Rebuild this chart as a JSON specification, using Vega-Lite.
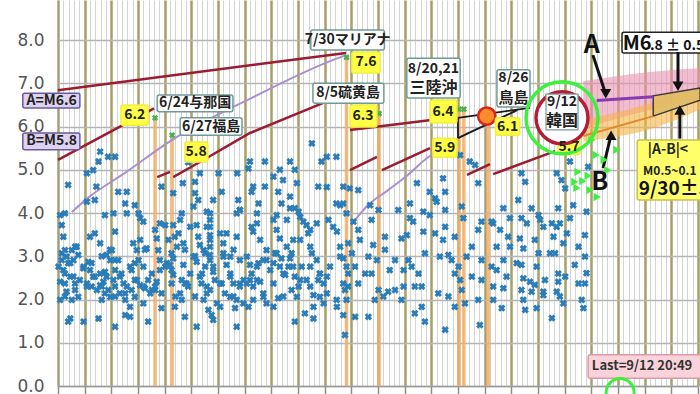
{
 "$schema": "https://vega.github.io/schema/vega-lite/v6.json",
 "width": 640, "height": 386,
 "autosize": {"type": "none"},
 "padding": {"left": 58, "top": 0, "right": 2, "bottom": 8},
 "background": "#ffffff",
 "config": {"view": {"stroke": null}, "text": {"font": "Noto Sans CJK JP"}},
 "datasets": {
  "levels": [{"v": 6.6}, {"v": 5.8}],
  "quakes": [{"d":18.2,"v":6.2},{"d":21.4,"v":5.8},{"d":54.1,"v":7.6},{"d":60.2,"v":6.3},{"d":75.2,"v":6.4},{"d":76.1,"v":6.4},{"d":80.7,"v":6.1}],
  "cone": [
   {"k":"pink","d":98.5,"v":5.95,"v2":7.05},{"k":"pink","d":104,"v":6.15,"v2":7.15},{"k":"pink","d":110,"v":6.35,"v2":7.25},{"k":"pink","d":120.5,"v":6.6,"v2":7.35},
   {"k":"orange","d":98.5,"v":5.65,"v2":6.15},{"k":"orange","d":104,"v":5.75,"v2":6.3},{"k":"orange","d":110,"v":5.9,"v2":6.5},{"k":"orange","d":120.5,"v":6.4,"v2":6.9},
   {"k":"trap","d":111.6,"v":6.24,"v2":6.71},{"k":"trap","d":120.4,"v":6.61,"v2":6.89}
  ],
  "lines": [
   {"k":"red","s":"r1","d":0,"v":6.84},{"k":"red","s":"r1","d":54,"v":7.7},
   {"k":"red","s":"r2","d":0,"v":5.23},{"k":"red","s":"r2","d":18,"v":6.42},
   {"k":"red","s":"r3","d":18.6,"v":4.83},{"k":"red","s":"r3","d":21,"v":4.95},
   {"k":"red","s":"r4","d":21.6,"v":4.83},{"k":"red","s":"r4","d":26.6,"v":5.18},{"k":"red","s":"r4","d":36,"v":5.85},{"k":"red","s":"r4","d":51,"v":6.61},{"k":"red","s":"r4","d":54,"v":6.72},
   {"k":"red","s":"r5","d":54.75,"v":5.92},{"k":"red","s":"r5","d":70,"v":6.15},
   {"k":"red","s":"r6","d":54.75,"v":4.99},{"k":"red","s":"r6","d":59.8,"v":5.3},
   {"k":"red","s":"r7","d":60.75,"v":4.99},{"k":"red","s":"r7","d":69.75,"v":5.5},
   {"k":"red","s":"r8","d":76.7,"v":4.88},{"k":"red","s":"r8","d":81,"v":5.13},
   {"k":"red","s":"r9","d":81.6,"v":4.9},{"k":"red","s":"r9","d":93.2,"v":5.43},
   {"k":"lav","s":"l1","d":2.6,"v":4.02},{"k":"lav","s":"l1","d":5.6,"v":4.35},{"k":"lav","s":"l1","d":12,"v":4.88},{"k":"lav","s":"l1","d":21.4,"v":5.69},{"k":"lav","s":"l1","d":36.6,"v":6.68},{"k":"lav","s":"l1","d":51.6,"v":7.54},{"k":"lav","s":"l1","d":54,"v":7.65},
   {"k":"lav","s":"l2","d":55.7,"v":3.84},{"k":"lav","s":"l2","d":58.1,"v":4.18},{"k":"lav","s":"l2","d":61.9,"v":4.53},{"k":"lav","s":"l2","d":65.6,"v":4.88},{"k":"lav","s":"l2","d":69.4,"v":5.29},{"k":"lav","s":"l2","d":72.6,"v":5.5},
   {"k":"pale","s":"p1","d":75,"v":5.76},{"k":"pale","s":"p1","d":85.7,"v":6.34},
   {"k":"blk","s":"b1","d":75,"v":6.2},{"k":"blk","s":"b1","d":88.5,"v":6.43},
   {"k":"blk","s":"b2","d":75,"v":5.73},{"k":"blk","s":"b2","d":86.1,"v":6.38},
   {"k":"blk","s":"b3","d":75,"v":6.2},{"k":"blk","s":"b3","d":75,"v":5.73},
   {"k":"a","s":"a","d":101,"v":6.6},{"k":"a","s":"a","d":111.6,"v":6.69},
   {"k":"b","s":"b","d":98.5,"v":5.78},{"k":"b","s":"b","d":111.6,"v":6.24},
   {"k":"arrow","s":"aA","d":100.3,"v":7.65},{"k":"arrow","s":"aA","d":102.4,"v":6.86},
   {"k":"arrow","s":"aB","d":102.2,"v":5.04},{"k":"arrow","s":"aB","d":103.5,"v":5.7},
   {"k":"arrow","s":"aM","d":116.25,"v":7.72},{"k":"arrow","s":"aM","d":116.25,"v":7.02},
   {"k":"arrow","s":"aAB","d":116.6,"v":5.72},{"k":"arrow","s":"aAB","d":116.6,"v":6.3}
  ],
  "heads": [{"k":"down","d":102.7,"v":6.76},{"k":"down","d":116.25,"v":6.93},{"k":"up","d":103.7,"v":5.8},{"k":"up","d":116.6,"v":6.38}],
  "gtri": [{"d":97.5,"v":4.95},{"d":96.9,"v":4.72},{"d":99.4,"v":4.86},{"d":100.9,"v":5.34},{"d":103.1,"v":4.99},{"d":102.4,"v":5.23},{"d":101.1,"v":4.37},{"d":99.75,"v":4.53},{"d":98.4,"v":4.74},{"d":97.3,"v":4.58},{"d":104.8,"v":5.46},{"d":100.1,"v":5.69}],
  "greenlines": [{"d":98.2},{"d":107.8}],
  "ring": [{"d":94.5,"v":6.2}],
  "dot": [{"d":80.4,"v":6.24}],
  "arc": [{"d":105.4,"v":-0.15}],
  "boxes": [
   {"k":"yel","d":11.8,"d2":16.9,"v":6.03,"v2":6.5},
   {"k":"yel","d":23.8,"d2":28.1,"v":5.18,"v2":5.64},
   {"k":"yel","d":55.1,"d2":60.4,"v":7.24,"v2":7.72},
   {"k":"yel","d":54.75,"d2":59.8,"v":5.99,"v2":6.5},
   {"k":"yel","d":69.75,"d2":74.8,"v":6.08,"v2":6.61},
   {"k":"yel","d":70.3,"d2":74.8,"v":5.29,"v2":5.73},
   {"k":"yel","d":82,"d2":86.6,"v":5.8,"v2":6.2},
   {"k":"yel","d":93.75,"d2":97.9,"v":5.35,"v2":5.73},
   {"k":"wht","d":18.6,"d2":32.8,"v":6.34,"v2":6.73},
   {"k":"wht","d":22.9,"d2":34.5,"v":5.8,"v2":6.2},
   {"k":"wht","d":47.4,"d2":61.2,"v":7.77,"v2":8.23},
   {"k":"wht","d":47.8,"d2":61.1,"v":6.54,"v2":7.0},
   {"k":"wht","d":65.4,"d2":75.4,"v":6.66,"v2":7.58},
   {"k":"wht","d":82.3,"d2":88.5,"v":6.45,"v2":7.31},
   {"k":"ring","d":91.5,"d2":97.5,"v":5.92,"v2":6.75},
   {"k":"lav","d":-6.6,"d2":4.1,"v":6.43,"v2":6.77},
   {"k":"lav","d":-6.6,"d2":4.1,"v":5.46,"v2":5.85},
   {"k":"m6","d":105.75,"d2":121,"v":7.7,"v2":8.18},
   {"k":"ab","d":108.6,"d2":121,"v":4.3,"v2":5.69},
   {"k":"last","d":99.4,"d2":121,"v":0.18,"v2":0.72}
  ],
  "texts": [
   {"k":"num","d":14.4,"v":6.26,"t":"6.2"},{"k":"num","d":25.9,"v":5.41,"t":"5.8"},{"k":"num","d":57.75,"v":7.48,"t":"7.6"},{"k":"num","d":57.2,"v":6.24,"t":"6.3"},{"k":"num","d":72.2,"v":6.34,"t":"6.4"},{"k":"num","d":72.5,"v":5.5,"t":"5.9"},{"k":"num","d":84.3,"v":5.99,"t":"6.1"},{"k":"num","d":95.8,"v":5.52,"t":"5.7"},
   {"k":"lbl","d":25.7,"v":6.54,"t":"6/24与那国"},{"k":"lbl","d":28.7,"v":5.99,"t":"6/27福島"},{"k":"lbl","d":54.3,"v":8.0,"t":"7/30マリアナ"},{"k":"lbl","d":54.4,"v":6.77,"t":"8/5硫黄島"},{"k":"lbl","d":70.4,"v":7.33,"t":"8/20,21"},{"k":"lbl","d":85.4,"v":7.12,"t":"8/26"},
   {"k":"lbl","d":-1.2,"v":6.6,"t":"A=M6.6"},{"k":"lbl","d":-1.2,"v":5.66,"t":"B=M5.8"},
   {"k":"place","d":70.4,"v":6.88,"t":"三陸沖"},{"k":"place2","d":85.4,"v":6.66,"t":"鳥島"},
   {"k":"ringtxt","d":94.5,"v":6.56,"t":"9/12"},{"k":"ringtxt2","d":94.5,"v":6.13,"t":"韓国"},
   {"k":"letter","d":100.1,"v":7.88,"t":"A"},{"k":"letter","d":101.6,"v":4.72,"t":"B"},
   {"k":"m6","d":105.9,"v":7.77,"t":"M6"},{"k":"m6s","d":111.0,"v":7.77,"t":".8 ± 0.5"},
   {"k":"note","d":110.6,"v":5.45,"t":"|A-B|<"},{"k":"note2","d":109.7,"v":4.98,"t":"M0.5~0.1"},{"k":"date","d":108.9,"v":4.56,"t":"9/30±5"},
   {"k":"last","d":100.1,"v":0.46,"t":"Last=9/12 20:49"}
  ],
  "pts": [
   {"d":0.4,"v":3.95},{"d":1.3,"v":3.99},{"d":0.7,"v":3.72},{"d":1.0,"v":3.45},{"d":0.7,"v":3.07},{"d":1.6,"v":2.99},{"d":2.6,"v":3.14},{"d":3.5,"v":3.22},{"d":0.1,"v":2.76},{"d":1.0,"v":2.68},{"d":1.9,"v":2.84},{"d":2.9,"v":2.91},{"d":0.4,"v":2.41},{"d":1.3,"v":2.37},{"d":2.3,"v":2.53},{"d":3.2,"v":2.37},{"d":4.1,"v":2.45},{"d":1.6,"v":2.18},{"d":2.6,"v":1.99},{"d":3.8,"v":2.06},{"d":0.4,"v":1.99},{"d":2.3,"v":1.56},{"d":1.9,"v":1.49},{"d":4.8,"v":1.49},
   {"d":4.8,"v":2.76},{"d":5.7,"v":2.87},{"d":6.0,"v":2.68},{"d":6.6,"v":2.53},{"d":5.4,"v":2.37},{"d":6.3,"v":2.30},{"d":7.3,"v":2.22},{"d":7.9,"v":2.33},{"d":7.9,"v":2.60},{"d":8.5,"v":2.41},{"d":9.1,"v":2.53},{"d":8.8,"v":2.14},{"d":7.6,"v":1.56},{"d":6.0,"v":3.45},{"d":6.9,"v":3.53},{"d":7.9,"v":3.30},{"d":8.8,"v":3.95},{"d":9.1,"v":3.03},{"d":9.8,"v":2.91},{"d":9.4,"v":2.22},{"d":9.8,"v":2.06},{"d":8.2,"v":1.99},
   {"d":10.4,"v":3.99},{"d":10.7,"v":3.57},{"d":10.1,"v":3.14},{"d":11.3,"v":2.91},{"d":10.7,"v":2.68},{"d":11.6,"v":2.53},{"d":12.3,"v":2.37},{"d":10.7,"v":2.30},{"d":11.6,"v":2.14},{"d":12.9,"v":2.30},{"d":13.8,"v":2.22},{"d":12.6,"v":1.99},{"d":13.5,"v":1.83},{"d":10.7,"v":1.37},{"d":12.6,"v":1.64},{"d":13.5,"v":1.60},{"d":12.9,"v":3.99},{"d":14.1,"v":3.30},{"d":14.8,"v":3.14},{"d":14.4,"v":2.84},{"d":13.8,"v":2.68},{"d":14.8,"v":2.45},{"d":14.4,"v":2.06},
   {"d":15.1,"v":3.99},{"d":15.4,"v":3.88},{"d":16.0,"v":3.80},{"d":15.4,"v":3.38},{"d":16.6,"v":3.18},{"d":16.0,"v":2.76},{"d":15.4,"v":2.33},{"d":16.3,"v":2.26},{"d":16.9,"v":2.45},{"d":17.3,"v":2.14},{"d":17.6,"v":2.22},{"d":16.0,"v":1.91},{"d":16.9,"v":1.49},{"d":18.2,"v":3.61},{"d":18.5,"v":3.41},{"d":18.8,"v":3.14},{"d":19.1,"v":2.91},{"d":19.1,"v":2.68},{"d":18.5,"v":2.41},{"d":18.2,"v":2.22},{"d":19.4,"v":1.80},{"d":19.1,"v":3.76},
   {"d":20.1,"v":3.72},{"d":20.7,"v":3.38},{"d":20.4,"v":2.84},{"d":21.0,"v":2.80},{"d":21.3,"v":2.68},{"d":21.6,"v":2.57},{"d":21.6,"v":2.95},{"d":22.3,"v":3.22},{"d":21.9,"v":3.45},{"d":22.6,"v":3.53},{"d":22.9,"v":3.84},{"d":23.2,"v":3.99},{"d":21.6,"v":3.72},{"d":23.5,"v":3.30},{"d":23.5,"v":2.80},{"d":23.8,"v":2.37},{"d":24.1,"v":2.37},{"d":22.9,"v":2.14},{"d":23.2,"v":1.99},{"d":21.9,"v":1.83},{"d":23.8,"v":1.60},{"d":24.8,"v":3.68},{"d":24.8,"v":2.60},
   {"d":25.4,"v":4.15},{"d":26.0,"v":3.72},{"d":26.3,"v":3.45},{"d":26.6,"v":3.26},{"d":27.3,"v":3.14},{"d":25.4,"v":2.99},{"d":26.0,"v":2.87},{"d":26.6,"v":2.53},{"d":26.9,"v":2.37},{"d":27.9,"v":2.30},{"d":27.9,"v":2.14},{"d":27.3,"v":1.99},{"d":26.0,"v":1.37},{"d":28.5,"v":3.99},{"d":28.5,"v":3.84},{"d":28.5,"v":3.68},{"d":28.5,"v":3.49},{"d":28.5,"v":3.38},{"d":28.5,"v":3.22},{"d":28.5,"v":3.03},{"d":28.5,"v":2.91},{"d":27.6,"v":2.76},{"d":29.1,"v":2.64},{"d":29.4,"v":2.45},{"d":28.2,"v":1.76},{"d":28.8,"v":1.64},{"d":29.8,"v":1.91},{"d":29.1,"v":1.53},
   {"d":30.4,"v":3.53},{"d":31.0,"v":3.30},{"d":31.6,"v":3.53},{"d":31.0,"v":3.07},{"d":31.6,"v":2.80},{"d":32.3,"v":2.99},{"d":32.3,"v":2.53},{"d":32.9,"v":2.37},{"d":30.7,"v":2.37},{"d":31.3,"v":2.14},{"d":33.5,"v":3.99},{"d":34.1,"v":4.07},{"d":33.5,"v":3.45},{"d":34.1,"v":2.91},{"d":34.1,"v":2.37},{"d":33.5,"v":1.99},{"d":33.2,"v":1.80},{"d":33.5,"v":1.37},{"d":34.8,"v":2.45},{"d":32.3,"v":2.06},
   {"d":35.4,"v":2.99},{"d":36.0,"v":2.80},{"d":36.3,"v":2.60},{"d":35.4,"v":2.37},{"d":36.6,"v":2.30},{"d":37.3,"v":2.45},{"d":37.9,"v":2.41},{"d":36.3,"v":3.68},{"d":37.3,"v":3.76},{"d":36.6,"v":3.57},{"d":37.9,"v":3.38},{"d":37.6,"v":2.84},{"d":39.1,"v":3.14},{"d":38.5,"v":2.91},{"d":38.5,"v":2.06},{"d":39.1,"v":1.91},{"d":35.7,"v":1.83},{"d":37.3,"v":3.99},{"d":39.8,"v":2.68},
   {"d":40.4,"v":3.84},{"d":41.0,"v":3.95},{"d":41.0,"v":3.61},{"d":41.6,"v":3.41},{"d":40.7,"v":3.07},{"d":41.6,"v":2.76},{"d":42.6,"v":2.57},{"d":43.2,"v":2.76},{"d":43.5,"v":2.95},{"d":41.9,"v":2.95},{"d":40.4,"v":2.84},{"d":43.8,"v":3.07},{"d":44.1,"v":3.38},{"d":43.5,"v":4.11},{"d":42.9,"v":3.84},{"d":43.8,"v":2.22},{"d":44.8,"v":2.06},{"d":44.4,"v":2.53},{"d":45.1,"v":2.30},{"d":41.3,"v":2.03},{"d":40.4,"v":1.83},{"d":44.4,"v":1.49},
   {"d":45.4,"v":3.91},{"d":46.0,"v":3.80},{"d":46.6,"v":3.72},{"d":46.9,"v":3.53},{"d":47.3,"v":3.22},{"d":47.6,"v":3.07},{"d":47.3,"v":2.76},{"d":48.5,"v":2.91},{"d":48.8,"v":2.45},{"d":49.1,"v":2.60},{"d":49.8,"v":2.37},{"d":47.9,"v":2.10},{"d":49.1,"v":2.06},{"d":49.8,"v":1.91},{"d":46.3,"v":1.68},{"d":47.9,"v":1.56},{"d":45.7,"v":2.76},{"d":46.6,"v":2.45},
   {"d":50.7,"v":3.84},{"d":51.6,"v":3.68},{"d":52.3,"v":3.57},{"d":52.9,"v":3.22},{"d":53.5,"v":2.95},{"d":54.1,"v":2.76},{"d":54.4,"v":2.60},{"d":53.5,"v":2.37},{"d":53.8,"v":2.22},{"d":54.1,"v":1.99},{"d":52.3,"v":1.83},{"d":53.5,"v":1.64},{"d":53.8,"v":1.18},{"d":52.9,"v":4.18},{"d":54.1,"v":3.99},{"d":50.4,"v":2.53},
   {"d":1.3,"v":3.14},{"d":3.2,"v":3.22},{"d":0.7,"v":2.91},{"d":2.3,"v":2.84},{"d":3.8,"v":3.03},{"d":1.3,"v":2.60},{"d":2.9,"v":2.53},{"d":4.75,"v":2.72},{"d":6.3,"v":2.84},{"d":8.2,"v":3.0},{"d":9.75,"v":3.15},{"d":10.7,"v":2.91},{"d":8.8,"v":2.64},{"d":6.9,"v":2.53},{"d":5.4,"v":2.30},{"d":3.2,"v":2.22},{"d":1.3,"v":2.07},{"d":8.2,"v":2.30},{"d":10.4,"v":2.45},{"d":11.9,"v":2.60},{"d":13.5,"v":2.76},{"d":15.1,"v":2.91},{"d":16.3,"v":3.15},{"d":14.4,"v":2.45},{"d":16.0,"v":2.30},{"d":12.6,"v":2.14},{"d":10.7,"v":2.07},{"d":17.6,"v":2.60},{"d":18.2,"v":2.30},{"d":19.4,"v":2.14},{"d":21.3,"v":2.37},{"d":23.2,"v":2.45},{"d":24.4,"v":2.30},{"d":25.7,"v":2.07},{"d":22.0,"v":2.07},{"d":20.1,"v":2.76},{"d":21.3,"v":3.07},{"d":23.8,"v":3.15},{"d":25.7,"v":3.0},{"d":27.0,"v":2.60},
   {"d":27.9,"v":3.68},{"d":27.6,"v":3.07},{"d":29.1,"v":2.76},{"d":31.0,"v":2.99},{"d":32.9,"v":3.15},{"d":32.3,"v":2.60},{"d":30.4,"v":2.37},{"d":28.5,"v":2.22},{"d":34.1,"v":2.30},{"d":36.0,"v":2.45},{"d":37.3,"v":2.76},{"d":39.1,"v":2.91},{"d":41.0,"v":3.07},{"d":42.9,"v":3.22},{"d":45.4,"v":3.38},{"d":47.3,"v":3.61},{"d":48.5,"v":3.76},{"d":44.1,"v":2.76},{"d":42.25,"v":2.60},{"d":40.4,"v":2.37},{"d":38.5,"v":2.14},{"d":36.6,"v":1.99},{"d":45.4,"v":2.45},{"d":47.3,"v":2.30},{"d":49.1,"v":2.60},{"d":51.0,"v":2.76},{"d":52.9,"v":2.99},{"d":50.4,"v":2.14},{"d":52.25,"v":1.99},{"d":34.75,"v":1.91},{"d":32.9,"v":2.07},{"d":30.4,"v":1.83},{"d":42.25,"v":2.07},{"d":47.9,"v":1.83},
   {"d":7.9,"v":5.42},{"d":9.4,"v":5.30},{"d":10.7,"v":5.30},{"d":7.6,"v":5.19},{"d":5.4,"v":4.92},{"d":6.6,"v":4.99},{"d":1.9,"v":4.65},{"d":7.2,"v":4.61},{"d":11.3,"v":4.49},{"d":12.9,"v":4.49},{"d":5.4,"v":4.26},{"d":6.9,"v":4.30},{"d":12.6,"v":4.22},{"d":14.4,"v":4.18},{"d":19.4,"v":4.61},{"d":21.6,"v":4.46},{"d":25.7,"v":4.46},{"d":26.3,"v":4.30},{"d":24.4,"v":5.17},{"d":23.4,"v":4.69},{"d":25.7,"v":4.72},
   {"d":26.6,"v":4.92},{"d":47.6,"v":5.61},{"d":50.4,"v":5.30},{"d":52.2,"v":5.30},{"d":49.4,"v":5.19},{"d":36.0,"v":5.19},{"d":38.8,"v":5.19},{"d":43.5,"v":5.19},{"d":41.6,"v":5.0},{"d":44.4,"v":5.0},{"d":35.7,"v":5.03},{"d":30.1,"v":4.92},{"d":44.8,"v":4.69},{"d":36.6,"v":4.61},{"d":38.8,"v":4.61},{"d":36.3,"v":4.49},{"d":41.3,"v":4.49},{"d":30.7,"v":4.49},{"d":48.8,"v":4.61},{"d":53.5,"v":4.61},{"d":43.5,"v":4.38},{"d":37.6,"v":4.22},{"d":41.9,"v":4.22},{"d":29.1,"v":4.30},{"d":52.2,"v":4.22},{"d":53.5,"v":4.22},{"d":44.4,"v":4.11},{"d":45.1,"v":4.03},{"d":33.8,"v":4.30},{"d":34.1,"v":4.07},{"d":27.9,"v":4.03},{"d":40.4,"v":4.84},{"d":42.2,"v":4.76},{"d":33.6,"v":4.92},{"d":50.4,"v":4.60},
   {"d":54.7,"v":4.57},{"d":56.3,"v":4.53},{"d":58.5,"v":4.18},{"d":60.1,"v":4.07},{"d":67.3,"v":4.69},{"d":72.2,"v":4.80},{"d":72.6,"v":4.49},{"d":69.7,"v":4.49},{"d":70.7,"v":4.34},{"d":71.0,"v":4.26},{"d":66.0,"v":4.22},{"d":63.8,"v":4.07},{"d":68.5,"v":4.03},{"d":69.7,"v":3.95},{"d":72.6,"v":4.07},{"d":75.7,"v":4.15},{"d":76.0,"v":3.88},{"d":78.8,"v":4.69},{"d":78.2,"v":5.11},{"d":75.4,"v":5.34},{"d":77.2,"v":5.19},{"d":79.4,"v":3.80},{"d":81.3,"v":3.80},{"d":55.4,"v":3.80},{"d":56.3,"v":3.61},{"d":58.8,"v":3.84},{"d":66.0,"v":3.88},{"d":66.6,"v":3.80},{"d":61.3,"v":3.45},{"d":64.4,"v":3.41},{"d":65.4,"v":3.49},{"d":68.5,"v":3.57},{"d":70.7,"v":3.53},{"d":72.6,"v":3.68},{"d":72.2,"v":3.38},{"d":74.4,"v":3.45},{"d":78.8,"v":3.61},{"d":77.6,"v":3.22},{"d":54.4,"v":3.30},{"d":55.1,"v":3.07},{"d":56.6,"v":3.38},{"d":59.1,"v":3.26},{"d":61.3,"v":3.15},{"d":58.2,"v":2.99},{"d":59.8,"v":2.91},{"d":63.2,"v":2.91},{"d":65.7,"v":2.91},{"d":68.8,"v":3.07},{"d":71.6,"v":2.99},{"d":73.2,"v":3.03},{"d":73.8,"v":2.91},{"d":75.1,"v":2.76},{"d":76.6,"v":2.99},{"d":79.4,"v":2.91},{"d":81.3,"v":2.76},{"d":55.7,"v":2.76},{"d":57.6,"v":2.60},{"d":58.8,"v":2.60},{"d":62.2,"v":2.68},{"d":64.8,"v":2.68},{"d":66.3,"v":2.76},{"d":67.6,"v":2.60},{"d":74.4,"v":2.60},{"d":75.4,"v":2.45},{"d":77.6,"v":2.53},{"d":79.4,"v":2.45},{"d":54.4,"v":2.30},{"d":56.3,"v":2.37},{"d":60.1,"v":2.22},{"d":61.9,"v":2.18},{"d":63.2,"v":2.22},{"d":64.8,"v":2.30},{"d":66.9,"v":2.30},{"d":68.2,"v":2.30},{"d":71.3,"v":2.14},{"d":73.2,"v":2.07},{"d":75.7,"v":2.22},{"d":76.3,"v":1.91},{"d":78.8,"v":1.99},{"d":55.7,"v":1.60},{"d":58.2,"v":1.60},{"d":59.4,"v":1.99},{"d":61.0,"v":2.07},{"d":64.4,"v":1.99},{"d":66.9,"v":1.68},{"d":68.8,"v":1.49},{"d":68.2,"v":1.83},{"d":72.6,"v":1.30},{"d":79.1,"v":1.41},{"d":74.4,"v":1.83},
   {"d":86.9,"v":4.92},{"d":87.6,"v":4.72},{"d":93.5,"v":4.92},{"d":94.4,"v":4.76},{"d":96.0,"v":5.19},{"d":99.4,"v":5.07},{"d":95.1,"v":4.57},{"d":86.3,"v":4.30},{"d":83.5,"v":4.11},{"d":88.8,"v":4.11},{"d":93.8,"v":4.11},{"d":96.6,"v":4.18},{"d":90.1,"v":3.95},{"d":84.75,"v":3.88},{"d":86.9,"v":3.88},{"d":90.4,"v":3.84},{"d":92.6,"v":3.76},{"d":94.1,"v":3.76},{"d":96.0,"v":3.88},{"d":99.1,"v":4.03},{"d":81.6,"v":3.76},{"d":82.9,"v":3.61},{"d":87.9,"v":3.76},{"d":91.0,"v":3.68},{"d":93.5,"v":3.68},{"d":84.4,"v":3.45},{"d":86.6,"v":3.41},{"d":89.4,"v":3.38},{"d":92.9,"v":3.45},{"d":95.4,"v":3.53},{"d":98.8,"v":3.49},{"d":82.25,"v":3.22},{"d":84.75,"v":3.22},{"d":87.25,"v":3.18},{"d":90.1,"v":3.07},{"d":92.25,"v":3.07},{"d":93.2,"v":3.07},{"d":94.75,"v":3.30},{"d":98.8,"v":2.99},{"d":83.5,"v":2.91},{"d":86.0,"v":2.84},{"d":86.9,"v":2.80},{"d":89.75,"v":2.76},{"d":93.8,"v":2.60},{"d":96.9,"v":2.80},{"d":82.25,"v":2.68},{"d":84.1,"v":2.53},{"d":87.25,"v":2.49},{"d":88.5,"v":2.41},{"d":89.4,"v":2.34},{"d":91.3,"v":2.45},{"d":93.8,"v":2.41},{"d":95.1,"v":2.53},{"d":97.6,"v":2.37},{"d":99.1,"v":2.61},{"d":98.8,"v":2.37},{"d":81.6,"v":2.30},{"d":83.5,"v":2.26},{"d":86.9,"v":2.22},{"d":88.8,"v":2.18},{"d":91.0,"v":2.18},{"d":93.5,"v":2.18},{"d":81.6,"v":1.99},{"d":87.25,"v":1.99},{"d":91.0,"v":2.10},{"d":94.1,"v":2.07},{"d":98.5,"v":1.80},{"d":83.2,"v":1.80},{"d":87.6,"v":1.76},{"d":89.75,"v":1.80},{"d":92.6,"v":1.57},{"d":94.75,"v":1.91},{"d":97.6,"v":3.22},{"d":98.2,"v":1.99}
  ]
 },
 "encoding": {
  "x": {"field": "d", "type": "quantitative",
   "scale": {"domain": [0, 120], "nice": false, "zero": false},
   "axis": {"title": null, "labels": false,
    "values": [0,1,2,3,4,5,6,7,8,9,10,11,12,13,14,15,16,17,18,19,20,21,22,23,24,25,26,27,28,29,30,31,32,33,34,35,36,37,38,39,40,41,42,43,44,45,46,47,48,49,50,51,52,53,54,55,56,57,58,59,60,61,62,63,64,65,66,67,68,69,70,71,72,73,74,75,76,77,78,79,80,81,82,83,84,85,86,87,88,89,90,91,92,93,94,95,96,97,98,99,100,101,102,103,104,105,106,107,108,109,110,111,112,113,114,115,116,117,118,119,120],
    "grid": true,
    "gridColor": {"condition": {"test": "datum.value % 5 === 0", "value": "#a69f66"}, "value": "#d4d4d4"},
    "gridWidth": {"condition": {"test": "datum.value % 5 === 0", "value": 2.5}, "value": 1},
    "ticks": true, "tickSize": 8, "tickColor": "#8c8c8c", "tickWidth": 1.5,
    "tickOpacity": {"condition": {"test": "datum.value % 5 === 0", "value": 1}, "value": 0},
    "domain": true, "domainColor": "#9a9a9a", "domainWidth": 1.5}},
  "y": {"field": "v", "type": "quantitative",
   "scale": {"domain": [0, 8.925], "nice": false, "zero": false},
   "axis": {"title": null, "values": [0,1,2,3,4,5,6,7,8,9], "format": ".1f",
    "grid": true, "gridColor": "#b5b5b5", "gridWidth": 1.3, "ticks": false,
    "domain": true, "domainColor": "#9a9a9a",
    "labelFont": "DejaVu Sans", "labelFontSize": 17, "labelColor": "#555555", "labelPadding": 14}}
 },
 "layer": [
  {"data": {"name": "levels"}, "mark": {"type": "rule", "color": "#8a8a8a", "strokeWidth": 1.5, "strokeDash": [6, 4]},
   "encoding": {"x": {"datum": 0}, "x2": {"datum": 120}}},
  {"data": {"name": "quakes"}, "mark": {"type": "rule", "color": "#f2ae68", "strokeWidth": 3.5, "opacity": 0.85},
   "encoding": {"y2": {"datum": 0}}},
  {"data": {"name": "cone"}, "transform": [{"filter": "datum.k === 'pink'"}], "mark": {"type": "area", "color": "#ea8fb2", "opacity": 0.6, "interpolate": "monotone"},
   "encoding": {"y2": {"field": "v2"}}},
  {"data": {"name": "cone"}, "transform": [{"filter": "datum.k === 'orange'"}], "mark": {"type": "area", "color": "#f6b444", "opacity": 0.6, "interpolate": "monotone"},
   "encoding": {"y2": {"field": "v2"}}},
  {"data": {"name": "lines"}, "transform": [{"filter": "datum.k === 'lav'"}], "mark": {"type": "line", "color": "#a98fd0", "strokeWidth": 2, "interpolate": "monotone"},
   "encoding": {"detail": {"field": "s"}}},
  {"data": {"name": "lines"}, "transform": [{"filter": "datum.k === 'pale'"}], "mark": {"type": "line", "color": "#c7b8dc", "strokeWidth": 1.5},
   "encoding": {"detail": {"field": "s"}}},
  {"data": {"name": "lines"}, "transform": [{"filter": "datum.k === 'red'"}], "mark": {"type": "line", "color": "#9b1b30", "strokeWidth": 2.5},
   "encoding": {"detail": {"field": "s"}}},
  {"data": {"name": "pts"}, "mark": {"type": "point", "shape": "cross", "angle": 45, "filled": true, "size": 55, "color": "#2a7db8", "opacity": 1}},
  {"data": {"name": "quakes"}, "mark": {"type": "point", "shape": "cross", "angle": 45, "filled": true, "size": 40, "color": "#4caf50", "opacity": 1}},
  {"data": {"name": "cone"}, "transform": [{"filter": "datum.k === 'trap'"}], "mark": {"type": "area", "color": "#e2bd66", "opacity": 0.9, "stroke": "#2a2a2a", "strokeWidth": 1.5},
   "encoding": {"y2": {"field": "v2"}}},
  {"data": {"name": "lines"}, "transform": [{"filter": "datum.k === 'a'"}], "mark": {"type": "line", "color": "#8a3ab0", "strokeWidth": 3}, "encoding": {"detail": {"field": "s"}}},
  {"data": {"name": "lines"}, "transform": [{"filter": "datum.k === 'b'"}], "mark": {"type": "line", "color": "#e08a28", "strokeWidth": 2}, "encoding": {"detail": {"field": "s"}}},
  {"data": {"name": "lines"}, "transform": [{"filter": "datum.k === 'blk'"}], "mark": {"type": "line", "color": "#1a1a1a", "strokeWidth": 1.8}, "encoding": {"detail": {"field": "s"}}},
  {"data": {"name": "greenlines"}, "mark": {"type": "rule", "color": "#3ef03e", "strokeWidth": 3},
   "encoding": {"y": {"datum": -0.3}, "y2": {"datum": 9.2}}},
  {"data": {"name": "dot"}, "mark": {"type": "point", "shape": "circle", "size": 300, "filled": true, "fill": "#ff8a2a", "stroke": "#d8261a", "strokeWidth": 2.5, "opacity": 1}},
  {"data": {"name": "boxes"}, "transform": [{"filter": "datum.k !== 'ring'"}],
   "mark": {"type": "rect", "strokeWidth": 1.5, "cornerRadius": 2},
   "encoding": {"x2": {"field": "d2"}, "y2": {"field": "v2"},
    "fill": {"field": "k", "type": "nominal", "legend": null, "scale": {"domain": ["yel", "wht", "lav", "m6", "ab", "last"], "range": ["#ffff44", "#ffffff", "#ddd2ef", "#ffffff", "#ffff6a", "#f9d2da"]}},
    "stroke": {"field": "k", "type": "nominal", "legend": null, "scale": {"domain": ["yel", "wht", "lav", "m6", "ab", "last"], "range": ["#f2ee40", "#6f9a9a", "#6a5a9a", "#222222", "#c8c050", "#d99aaa"]}}}},
  {"data": {"name": "ring"}, "mark": {"type": "point", "shape": "circle", "size": 2704, "filled": true, "fill": "#ffffff", "stroke": "#b51d35", "strokeWidth": 3.5, "opacity": 1}},
  {"data": {"name": "boxes"}, "transform": [{"filter": "datum.k === 'ring'"}],
   "mark": {"type": "rect", "fill": "#ffffff", "stroke": "#7a9a9a", "strokeWidth": 1.2},
   "encoding": {"x2": {"field": "d2"}, "y2": {"field": "v2"}}},
  {"data": {"name": "ring"}, "mark": {"type": "point", "shape": "circle", "size": 5184, "filled": false, "stroke": "#3ef03e", "strokeWidth": 3.5, "opacity": 1}},
  {"data": {"name": "arc"}, "mark": {"type": "point", "shape": "circle", "size": 784, "filled": false, "stroke": "#3ef03e", "strokeWidth": 3, "opacity": 1}},
  {"data": {"name": "lines"}, "transform": [{"filter": "datum.k === 'arrow'"}], "mark": {"type": "line", "color": "#111111", "strokeWidth": 3}, "encoding": {"detail": {"field": "s"}}},
  {"data": {"name": "heads"}, "transform": [{"filter": "datum.k === 'down'"}], "mark": {"type": "point", "shape": "triangle-down", "size": 120, "filled": true, "color": "#111111", "opacity": 1}},
  {"data": {"name": "heads"}, "transform": [{"filter": "datum.k === 'up'"}], "mark": {"type": "point", "shape": "triangle-up", "size": 120, "filled": true, "color": "#111111", "opacity": 1}},
  {"data": {"name": "gtri"}, "mark": {"type": "point", "shape": "triangle-right", "size": 70, "filled": true, "color": "#3ef03e", "opacity": 1}},
  {"data": {"name": "texts"}, "transform": [{"filter": "datum.k === 'num' || datum.k === 'lbl' || datum.k === 'ringtxt'"}],
   "mark": {"type": "text", "font": "Noto Sans CJK JP", "fontWeight": "bold", "fontSize": 14, "color": "#222222", "align": "center", "baseline": "middle"},
   "encoding": {"text": {"field": "t"}}},
  {"data": {"name": "texts"}, "transform": [{"filter": "datum.k === 'place' || datum.k === 'ringtxt2'"}],
   "mark": {"type": "text", "font": "Noto Sans CJK JP", "fontWeight": "bold", "fontSize": 16, "color": "#222222", "align": "center", "baseline": "middle"},
   "encoding": {"text": {"field": "t"}}},
  {"data": {"name": "texts"}, "transform": [{"filter": "datum.k === 'place2'"}],
   "mark": {"type": "text", "font": "Noto Sans CJK JP", "fontWeight": "bold", "fontSize": 15, "color": "#222222", "align": "center", "baseline": "middle"},
   "encoding": {"text": {"field": "t"}}},
  {"data": {"name": "texts"}, "transform": [{"filter": "datum.k === 'letter'"}],
   "mark": {"type": "text", "font": "Noto Sans CJK JP", "fontWeight": "bold", "fontSize": 25, "color": "#111111", "align": "center", "baseline": "middle"},
   "encoding": {"text": {"field": "t"}}},
  {"data": {"name": "texts"}, "transform": [{"filter": "datum.k === 'm6'"}],
   "mark": {"type": "text", "font": "Noto Sans CJK JP", "fontWeight": "bold", "fontSize": 20, "color": "#111111", "align": "left", "baseline": "alphabetic"},
   "encoding": {"text": {"field": "t"}}},
  {"data": {"name": "texts"}, "transform": [{"filter": "datum.k === 'm6s'"}],
   "mark": {"type": "text", "font": "Noto Sans CJK JP", "fontWeight": "bold", "fontSize": 14, "color": "#111111", "align": "left", "baseline": "alphabetic"},
   "encoding": {"text": {"field": "t"}}},
  {"data": {"name": "texts"}, "transform": [{"filter": "datum.k === 'note'"}],
   "mark": {"type": "text", "font": "Noto Sans CJK JP", "fontWeight": "bold", "fontSize": 14, "color": "#222222", "align": "left", "baseline": "middle"},
   "encoding": {"text": {"field": "t"}}},
  {"data": {"name": "texts"}, "transform": [{"filter": "datum.k === 'note2'"}],
   "mark": {"type": "text", "font": "Noto Sans CJK JP", "fontWeight": "bold", "fontSize": 12, "color": "#222222", "align": "left", "baseline": "middle"},
   "encoding": {"text": {"field": "t"}}},
  {"data": {"name": "texts"}, "transform": [{"filter": "datum.k === 'date'"}],
   "mark": {"type": "text", "font": "Noto Sans CJK JP", "fontWeight": "bold", "fontSize": 19, "color": "#111111", "align": "left", "baseline": "middle"},
   "encoding": {"text": {"field": "t"}}},
  {"data": {"name": "texts"}, "transform": [{"filter": "datum.k === 'last'"}],
   "mark": {"type": "text", "font": "Noto Sans CJK JP", "fontWeight": "bold", "fontSize": 13, "color": "#333333", "align": "left", "baseline": "middle"},
   "encoding": {"text": {"field": "t"}}}
 ]
}
